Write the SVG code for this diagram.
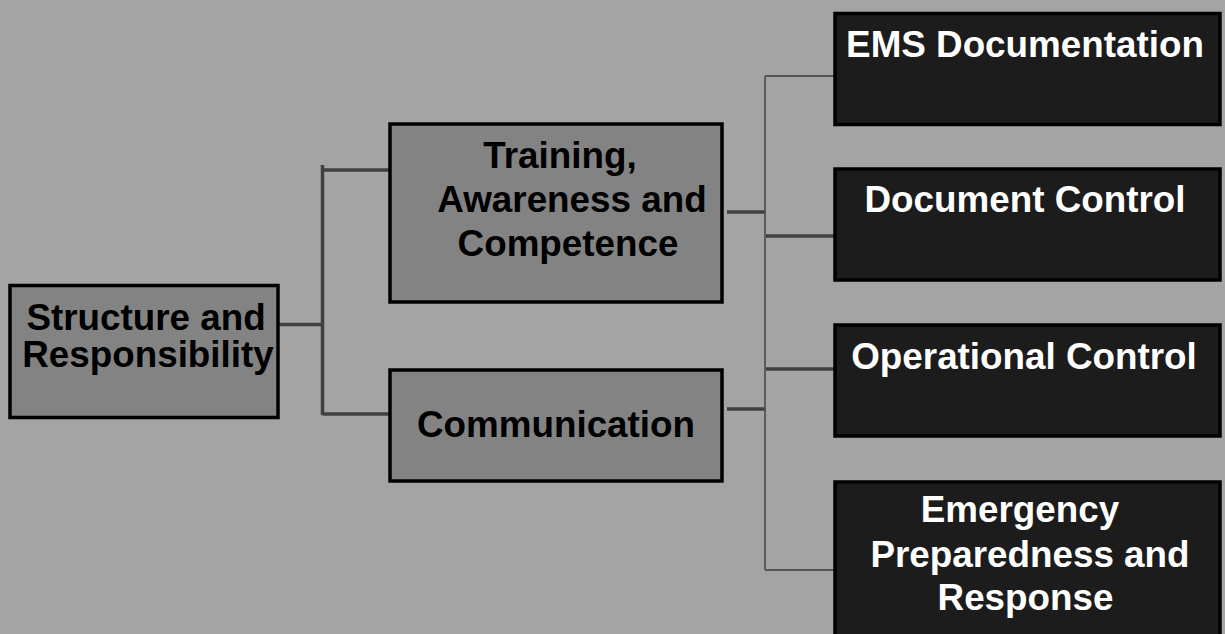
<svg xmlns="http://www.w3.org/2000/svg" width="1225" height="634" viewBox="0 0 1225 634">
<style>
.bg{fill:#a4a4a4}
.gray rect{fill:#838383;stroke:#000;stroke-width:3.5}
.dark rect{fill:#1c1c1c;stroke:#000;stroke-width:3.5}
text{font-family:"Liberation Sans",Arial,sans-serif;font-weight:bold;font-size:36.8px;text-anchor:middle}
.gray text{fill:#000}
.dark text{fill:#fff}
.thick{stroke:#404040;stroke-width:3.5;fill:none}
.thin{stroke:#555;stroke-width:1.8;fill:none}
</style>
<rect class="bg" x="0" y="0" width="1225" height="634"/>
<g id="connectors">
<path class="thick" d="M279 324.5H322.5M322.5 165V415M322.5 170H390M322.5 414H390"/>
<path class="thick" d="M727 212H766M727 409H766M766 236H836M766 369H836"/>
<path class="thin" d="M765 76V570M765 76H836M765 570H836"/>
</g>
<g id="n-structure" class="gray">
<rect x="10" y="285.5" width="268" height="132"/>
<text x="146" y="330">Structure and</text>
<text x="148" y="367">Responsibility</text>
</g>
<g id="n-training" class="gray">
<rect x="390" y="124" width="332" height="178"/>
<text x="560" y="168">Training,</text>
<text x="572" y="212">Awareness and</text>
<text x="568" y="256">Competence</text>
</g>
<g id="n-communication" class="gray">
<rect x="390" y="370" width="332" height="111"/>
<text x="556" y="437">Communication</text>
</g>
<g id="n-ems" class="dark">
<rect x="835" y="13.5" width="385" height="111"/>
<text x="1025" y="57">EMS Documentation</text>
</g>
<g id="n-doccontrol" class="dark">
<rect x="835" y="169" width="385" height="111"/>
<text x="1025" y="212">Document Control</text>
</g>
<g id="n-opcontrol" class="dark">
<rect x="835" y="325" width="385" height="111"/>
<text x="1024" y="369">Operational Control</text>
</g>
<g id="n-emergency" class="dark">
<rect x="835" y="482" width="385" height="170"/>
<text x="1020" y="522">Emergency</text>
<text x="1030" y="567">Preparedness and</text>
<text x="1025.5" y="610">Response</text>
</g>
</svg>
